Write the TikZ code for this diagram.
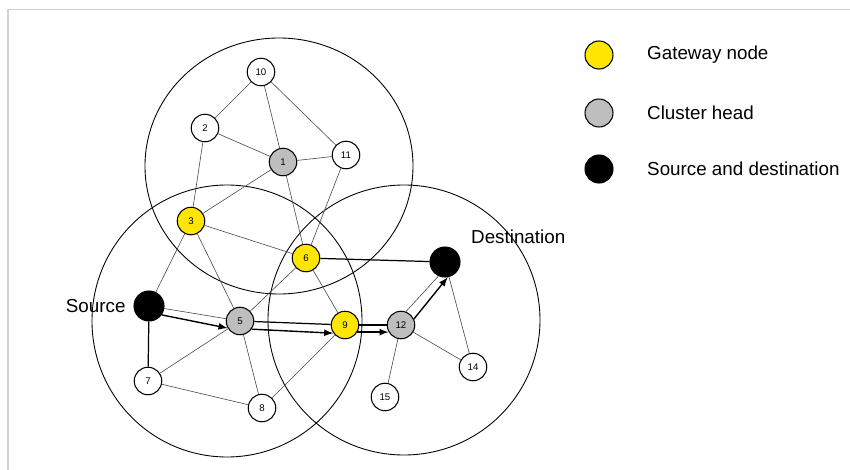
\documentclass[tikz,border=0pt]{standalone}
\usepackage{fontspec}
\setmainfont{Liberation Sans}
\usepackage{tikz}
\usetikzlibrary{arrows,positioning}
\definecolor{gwyellow}{RGB}{255,230,0}
\definecolor{chgray}{RGB}{190,190,190}
\tikzset{>=latex}
\tikzset{
  sensor/.style={circle, draw=black, line width=0.6pt, fill=white,
    minimum size=0.55cm, inner sep=0pt, font=\fontsize{5.5}{6}\selectfont},
  gateway/.style={sensor, fill=gwyellow},
  clusterhead/.style={sensor, fill=chgray},
  endpoint/.style={sensor, fill=black, minimum size=0.6cm},
  link/.style={draw=black!70, line width=0.35pt},
  heavylink/.style={draw=black, line width=0.7pt},
  hop/.style={-{latex[scale=1.2]}, draw=black, line width=0.8pt},
  clusterrange/.style={draw=black, line width=0.5pt},
  caption/.style={font=\fontsize{10.7}{12}\selectfont}
}

\begin{document}
\begin{tikzpicture}[x=0.02cm, y=-0.02cm]
  \useasboundingbox (0,0) rectangle (850,470);
  % frame of the screenshot
  \draw[black!18, line width=0.6pt] (850,9.5) -- (8,9.5) -- (8,470);

  % cluster ranges
  \draw[clusterrange] (279,166) ellipse (134 and 128);
  \draw[clusterrange] (227,321) ellipse (135 and 136);
  \draw[clusterrange] (404,320) ellipse (136 and 135);

  % nodes
  \node[sensor] (n10) at (261,72) {10};
  \node[sensor] (n2) at (205,128) {2};
  \node[clusterhead] (n1) at (283,162) {1};
  \node[sensor] (n11) at (346,155) {11};
  \node[gateway] (n3) at (191,221) {3};
  \node[gateway] (n6) at (306,258) {6};
  \node[endpoint] (src) at (149,306) {};
  \node[clusterhead] (n5) at (240,321) {5};
  \node[gateway] (n9) at (345,325) {9};
  \node[clusterhead] (n12) at (401,325) {12};
  \node[endpoint] (dst) at (445,262) {};
  \node[sensor] (n7) at (148,381) {7};
  \node[sensor] (n8) at (262,408) {8};
  \node[sensor] (n14) at (473,367) {14};
  \node[sensor] (n15) at (385,397) {15};

  \node[caption, left=1pt of src] (srclabel) {Source};
  \node[caption, anchor=south west] (dstlabel) at (465,250) {Destination};

  % links between neighbours
  \foreach \a/\b in {n10/n2, n10/n1, n10/n11, n2/n1, n2/n3, n1/n11, n1/n3,
      n1/n6, n11/n6, n3/n6, n3/src, n3/n5, n6/n5, n6/n9, n5/n8, n7/n5,
      n7/n8, n8/n9, n12/n15, n12/n14, dst/n14, src/n5}
    \draw[link] (\a) -- (\b);
  \draw[link] (n12.70) -- (dst.-115);
  \foreach \a/\b in {n6/dst, src/n7, n5/n9, n9/n12}
    \draw[heavylink] (\a) -- (\b);

  % route from source to destination
  \draw[hop] (src.-35) -- (n5.-150);
  \draw[hop] (n5.-35) -- (n9.-145);
  \draw[hop] (n9.-30) -- (n12.-150);
  \draw[hop] (n12.25) -- (dst.-80);

  % legend
  \node[gateway, minimum size=0.56cm] (leg1) at (599,55) {};
  \node[clusterhead, minimum size=0.56cm] (leg2) at (599,113) {};
  \node[endpoint, minimum size=0.56cm] (leg3) at (599,169) {};
  \node[caption, right=0.55cm of leg1] (legtext1) {Gateway node};
  \node[caption, right=0.55cm of leg2] (legtext2) {Cluster head};
  \node[caption, right=0.55cm of leg3] (legtext3) {Source and destination};
\end{tikzpicture}
\end{document}
